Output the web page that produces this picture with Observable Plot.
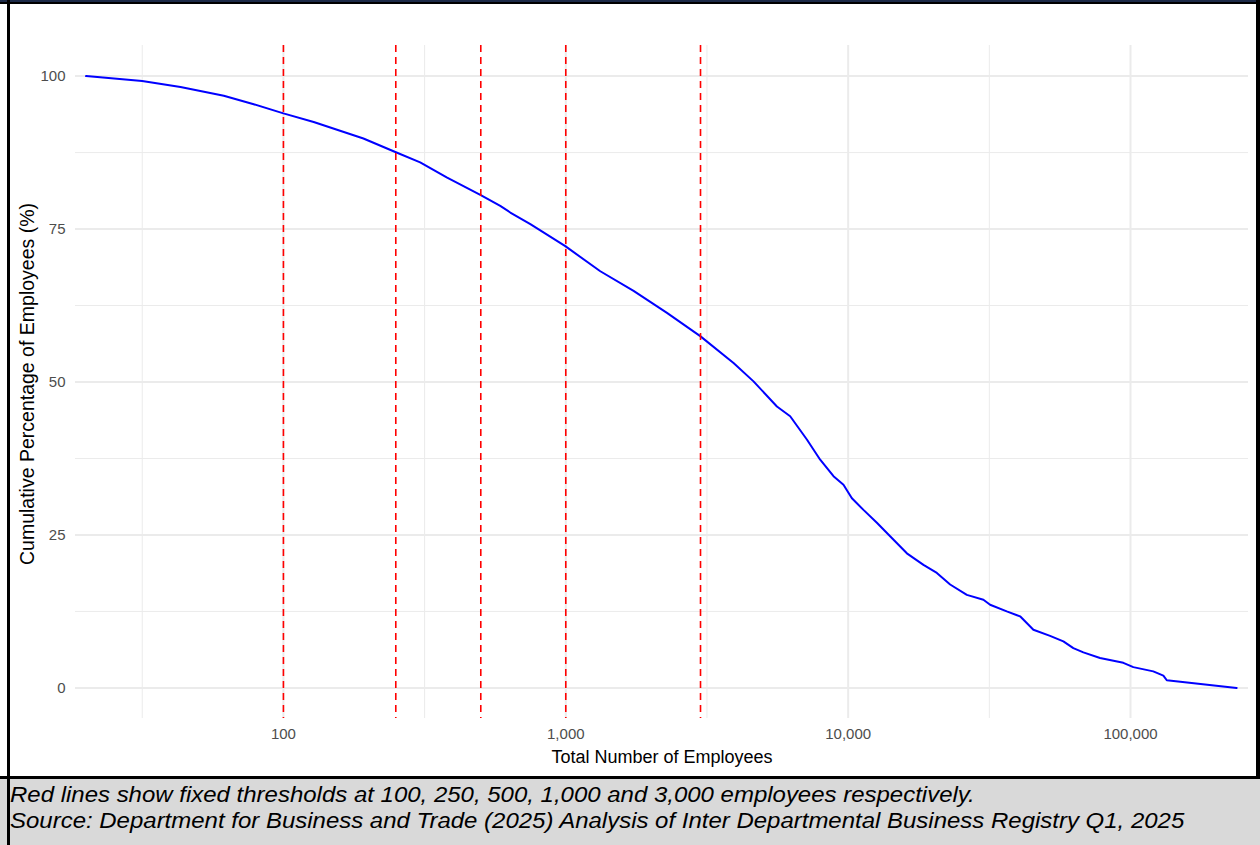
<!DOCTYPE html>
<html>
<head>
<meta charset="utf-8">
<script src="https://cdn.jsdelivr.net/npm/d3@7"></script>
<script src="https://cdn.jsdelivr.net/npm/@observablehq/plot@0.6"></script>
<style>
  html, body { margin: 0; padding: 0; background: #fff; }
  #page { position: relative; width: 1260px; height: 845px; overflow: hidden; background: #fff;
          font-family: "Liberation Sans", Arial, sans-serif; }
  #chart { position: absolute; left: 0; top: 0; }
  .topbar { position: absolute; left: 0; top: 0; width: 1260px; height: 4px; background: #000; }
  .topbar2 { position: absolute; left: 0; top: 0; width: 1260px; height: 2px; background: #1c2a48; }
  .lborder { position: absolute; left: 7px; top: 0; width: 3px; height: 845px; background: #000; }
  .rborder { position: absolute; left: 1256px; top: 0; width: 4px; height: 779px; background: #000; }
  #caption { position: absolute; left: 0; top: 776px; width: 1260px; height: 69px; background: #d9d9d9;
             border-top: 3px solid #000; box-sizing: border-box; padding-left: 10px; padding-top: 3px;
             font-style: italic; font-size: 22px; line-height: 26px; color: #000; }
  #caption div { transform: scaleX(1.09); transform-origin: 0 0; white-space: nowrap; }
</style>
</head>
<body>
<div id="page">
  <div id="chart"></div>
  <div id="caption"></div>
  <div class="topbar"></div>
  <div class="topbar2"></div>
  <div class="lborder"></div>
  <div class="rborder"></div>
</div>
<script>
// Data
const employees = [20, 31.6, 43.2, 61.5, 78.5, 100, 128, 192, 249, 305, 380, 498, 586, 636, 749, 996,
  1325, 1738, 2282, 2993, 3927, 4622, 5594, 6232, 7141, 7960, 8873, 9625, 10310, 11330, 12640, 14080,
  16140, 18480, 20610, 22970, 26320, 30130, 31820, 36450, 40630, 45290, 51880, 57830, 62730, 68080,
  77980, 94300, 102300, 120400, 130700, 134400, 237600];
const cumulativePct = [100, 99.2, 98.2, 96.8, 95.4, 93.9, 92.5, 89.8, 87.6, 85.9, 83.4, 80.6, 78.8, 77.7, 75.8, 72.2,
  68.1, 64.9, 61.3, 57.5, 53.1, 50.1, 46.0, 44.4, 40.6, 37.3, 34.6, 33.2, 31.0, 29.1, 27.0, 24.8,
  22.0, 20.1, 18.8, 16.9, 15.2, 14.4, 13.6, 12.5, 11.7, 9.5, 8.5, 7.6, 6.5, 5.8,
  4.9, 4.1, 3.4, 2.7, 2.0, 1.25, 0];
const thresholds = [100, 250, 500, 1000, 3000];
const xTicks = [100, 1000, 10000, 100000];
const xMinor = [31.62, 316.2, 3162, 31623];
const yTicks = [0, 25, 50, 75, 100];
const yMinor = [12.5, 37.5, 62.5, 87.5];
const xTitle = "Total Number of Employees";
const yTitle = "Cumulative Percentage of Employees (%)";
const captionLines = [
  "Red lines show fixed thresholds at 100, 250, 500, 1,000 and 3,000 employees respectively.",
  "Source: Department for Business and Trade (2025) Analysis of Inter Departmental Business Registry Q1, 2025"
];

const data = employees.map((e, i) => ({employees: e, pct: cumulativePct[i]}));

const chart = Plot.plot({
  width: 1260,
  height: 776,
  marginLeft: 75,
  marginRight: 12,
  marginTop: 45,
  marginBottom: 58,
  style: {fontFamily: '"Liberation Sans", Arial, sans-serif', background: "transparent"},
  x: {type: "log", domain: [18.35, 261700]},
  y: {domain: [-5, 105]},
  marks: [
    Plot.ruleX(xMinor, {stroke: "#ebebeb", strokeWidth: 1}),
    Plot.ruleY(yMinor, {stroke: "#ebebeb", strokeWidth: 1}),
    Plot.ruleX(xTicks, {stroke: "#ebebeb", strokeWidth: 2}),
    Plot.ruleY(yTicks, {stroke: "#ebebeb", strokeWidth: 2}),
    Plot.axisX({ticks: xTicks, tickFormat: d3.format(","), tickSize: 0, tickPadding: 10,
                label: null, fontSize: 15, fill: "#4d4d4d"}),
    Plot.axisY({ticks: yTicks, tickSize: 0, tickPadding: 10, label: null, fontSize: 15, fill: "#4d4d4d"}),
    Plot.line(data, {x: "employees", y: "pct", stroke: "#0000ff", strokeWidth: 2}),
    Plot.ruleX(thresholds, {stroke: "#ff0000", strokeWidth: 1.6, strokeDasharray: "7,5"}),
    Plot.text([xTitle], {frameAnchor: "bottom", dy: 39, fontSize: 18, fill: "#000", lineAnchor: "middle"}),
    Plot.text([yTitle], {frameAnchor: "left", dx: -48, dy: 2, rotate: -90, fontSize: 19.5, fill: "#000",
                         textAnchor: "middle", lineAnchor: "middle"})
  ]
});
document.getElementById("chart").appendChild(chart);

const cap = document.getElementById("caption");
captionLines.forEach(t => { const d = document.createElement("div"); d.textContent = t; cap.appendChild(d); });
</script>
</body>
</html>
